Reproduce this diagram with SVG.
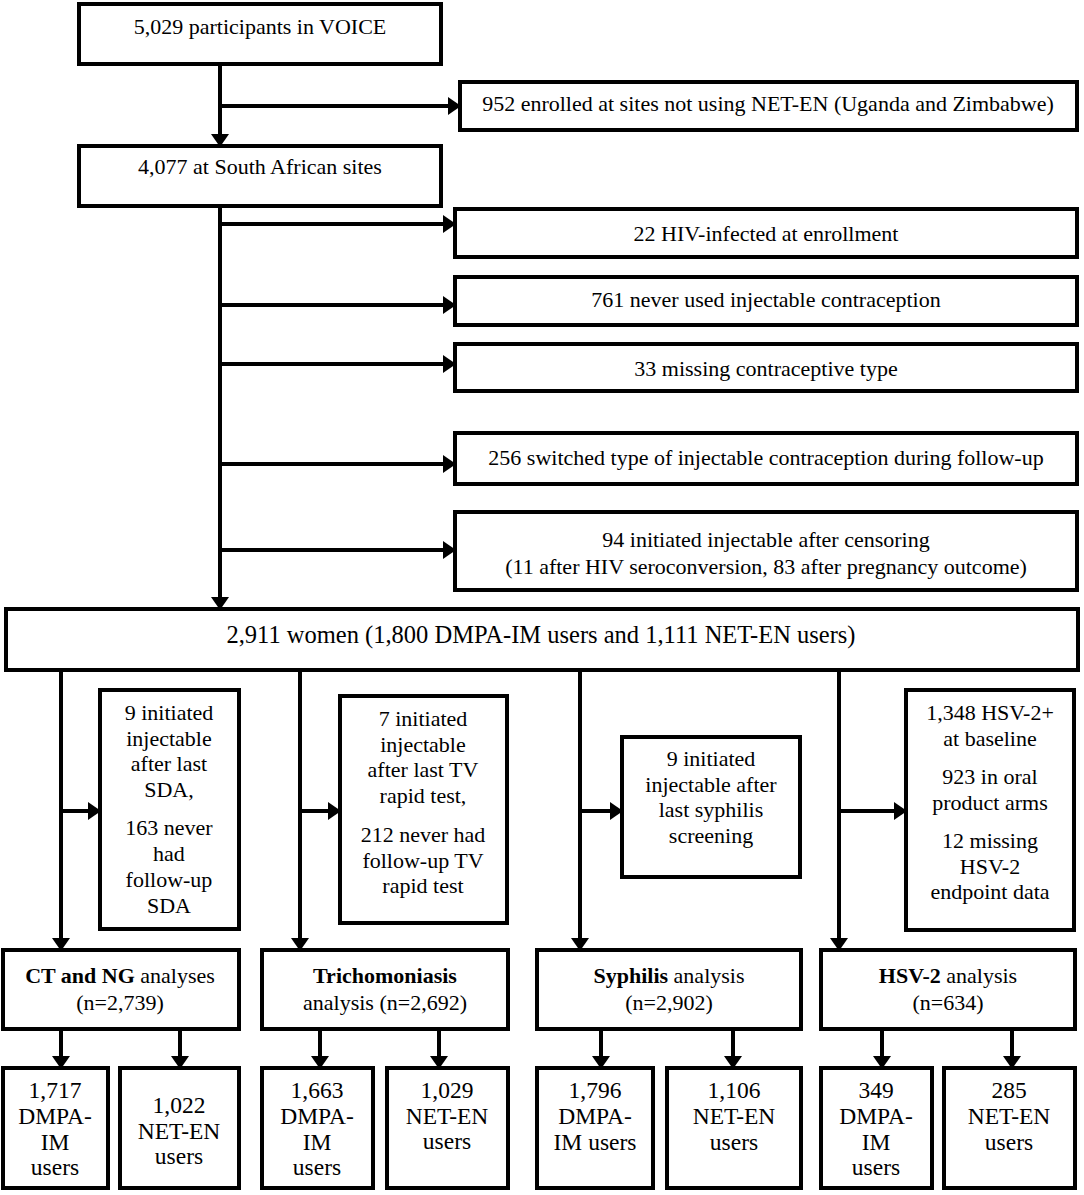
<svg xmlns="http://www.w3.org/2000/svg" width="1084" height="1195" viewBox="0 0 1084 1195">
<defs>
<marker id="ah" markerUnits="userSpaceOnUse" viewBox="0 0 13 18" refX="12" refY="9" markerWidth="13" markerHeight="18" orient="auto">
<path d="M0,0 L13,9 L0,18 z" fill="#000"/>
</marker>
<style>
.box{fill:#fff;stroke:#000;stroke-width:4}
.ar{fill:none;stroke:#000;stroke-width:4;marker-end:url(#ah)}
text{font-family:"Liberation Serif","Times New Roman",serif;font-size:22px;fill:#000;text-anchor:middle}
.b{font-weight:bold}
.big{font-size:24.5px}
.sub text{font-size:23.5px}
</style>
</defs>
<rect width="1084" height="1195" fill="#fff"/>

<g id="connectors">
<line class="ar" x1="220" y1="64" x2="220" y2="146"/>
<line class="ar" x1="220" y1="106" x2="460" y2="106"/>
<line class="ar" x1="220" y1="206" x2="220" y2="609"/>
<line class="ar" x1="220" y1="224" x2="455" y2="224"/>
<line class="ar" x1="220" y1="305" x2="455" y2="305"/>
<line class="ar" x1="220" y1="364" x2="455" y2="364"/>
<line class="ar" x1="220" y1="464" x2="455" y2="464"/>
<line class="ar" x1="220" y1="550" x2="455" y2="550"/>
<line class="ar" x1="61" y1="670" x2="61" y2="950"/>
<line class="ar" x1="300" y1="670" x2="300" y2="950"/>
<line class="ar" x1="580" y1="670" x2="580" y2="950"/>
<line class="ar" x1="839" y1="670" x2="839" y2="950"/>
<line class="ar" x1="61" y1="811" x2="100" y2="811"/>
<line class="ar" x1="300" y1="811" x2="340" y2="811"/>
<line class="ar" x1="580" y1="811" x2="622" y2="811"/>
<line class="ar" x1="839" y1="811" x2="906" y2="811"/>
<line class="ar" x1="61" y1="1029" x2="61" y2="1068"/>
<line class="ar" x1="180" y1="1029" x2="180" y2="1068"/>
<line class="ar" x1="320" y1="1029" x2="320" y2="1068"/>
<line class="ar" x1="439" y1="1029" x2="439" y2="1068"/>
<line class="ar" x1="601" y1="1029" x2="601" y2="1068"/>
<line class="ar" x1="733" y1="1029" x2="733" y2="1068"/>
<line class="ar" x1="882" y1="1029" x2="882" y2="1068"/>
<line class="ar" x1="1012" y1="1029" x2="1012" y2="1068"/>
</g>

<g id="n_voice"><rect class="box" x="79" y="4" width="362" height="60"/><text x="260" y="34">5,029 participants in VOICE</text></g>
<g id="n_952"><rect class="box" x="460" y="82" width="617" height="48"/><text x="768" y="111">952 enrolled at sites not using NET-EN (Uganda and Zimbabwe)</text></g>
<g id="n_4077"><rect class="box" x="79" y="146" width="362" height="60"/><text x="260" y="174">4,077 at South African sites</text></g>
<g id="n_22"><rect class="box" x="455" y="209" width="622" height="48"/><text x="766" y="241">22 HIV-infected at enrollment</text></g>
<g id="n_761"><rect class="box" x="455" y="277" width="622" height="48"/><text x="766" y="307">761 never used injectable contraception</text></g>
<g id="n_33"><rect class="box" x="455" y="344" width="622" height="47"/><text x="766" y="376">33 missing contraceptive type</text></g>
<g id="n_256"><rect class="box" x="455" y="433" width="622" height="51"/><text x="766" y="465">256 switched type of injectable contraception during follow-up</text></g>
<g id="n_94"><rect class="box" x="455" y="512" width="622" height="78"/><text x="766" y="547">94 initiated injectable after censoring</text><text x="766" y="574">(11 after HIV seroconversion, 83 after pregnancy outcome)</text></g>
<g id="n_2911"><rect class="box" x="6" y="609" width="1072" height="61"/><text class="big" x="541" y="643">2,911 women (1,800 DMPA-IM users and 1,111 NET-EN users)</text></g>

<g id="n_ex_ct"><rect class="box" x="100" y="690" width="139" height="239"/>
<text x="169" y="720">9 initiated</text><text x="169" y="746">injectable</text><text x="169" y="771">after last</text><text x="169" y="797">SDA,</text>
<text x="169" y="835">163 never</text><text x="169" y="861">had</text><text x="169" y="887">follow-up</text><text x="169" y="913">SDA</text></g>
<g id="n_ex_tv"><rect class="box" x="340" y="696" width="167" height="227"/>
<text x="423" y="726">7 initiated</text><text x="423" y="752">injectable</text><text x="423" y="777">after last TV</text><text x="423" y="803">rapid test,</text>
<text x="423" y="842">212 never had</text><text x="423" y="868">follow-up TV</text><text x="423" y="893">rapid test</text></g>
<g id="n_ex_syph"><rect class="box" x="622" y="737" width="178" height="140"/>
<text x="711" y="766">9 initiated</text><text x="711" y="792">injectable after</text><text x="711" y="817">last syphilis</text><text x="711" y="843">screening</text></g>
<g id="n_ex_hsv"><rect class="box" x="906" y="690" width="168" height="240"/>
<text x="990" y="720">1,348 HSV-2+</text><text x="990" y="746">at baseline</text>
<text x="990" y="784">923 in oral</text><text x="990" y="810">product arms</text>
<text x="990" y="848">12 missing</text><text x="990" y="874">HSV-2</text><text x="990" y="899">endpoint data</text></g>

<g id="n_ct"><rect class="box" x="3" y="950" width="236" height="79"/><text x="120" y="983"><tspan class="b">CT and NG</tspan> analyses</text><text x="120" y="1010">(n=2,739)</text></g>
<g id="n_tv"><rect class="box" x="262" y="950" width="246" height="79"/><text x="385" y="983" class="b">Trichomoniasis</text><text x="385" y="1010">analysis (n=2,692)</text></g>
<g id="n_syph"><rect class="box" x="537" y="950" width="264" height="79"/><text x="669" y="983"><tspan class="b">Syphilis</tspan> analysis</text><text x="669" y="1010">(n=2,902)</text></g>
<g id="n_hsv"><rect class="box" x="821" y="950" width="254" height="79"/><text x="948" y="983"><tspan class="b">HSV-2</tspan> analysis</text><text x="948" y="1010">(n=634)</text></g>

<g id="n_ct_d" class="sub"><rect class="box" x="3" y="1068" width="105" height="120"/><text x="55" y="1098">1,717</text><text x="55" y="1124">DMPA-</text><text x="55" y="1150">IM</text><text x="55" y="1175">users</text></g>
<g id="n_ct_n" class="sub"><rect class="box" x="120" y="1068" width="119" height="120"/><text x="179" y="1113">1,022</text><text x="179" y="1139">NET-EN</text><text x="179" y="1164">users</text></g>
<g id="n_tv_d" class="sub"><rect class="box" x="262" y="1068" width="111" height="120"/><text x="317" y="1098">1,663</text><text x="317" y="1124">DMPA-</text><text x="317" y="1150">IM</text><text x="317" y="1175">users</text></g>
<g id="n_tv_n" class="sub"><rect class="box" x="387" y="1068" width="121" height="120"/><text x="447" y="1098">1,029</text><text x="447" y="1124">NET-EN</text><text x="447" y="1149">users</text></g>
<g id="n_syph_d" class="sub"><rect class="box" x="537" y="1068" width="116" height="120"/><text x="595" y="1098">1,796</text><text x="595" y="1124">DMPA-</text><text x="595" y="1150">IM users</text></g>
<g id="n_syph_n" class="sub"><rect class="box" x="667" y="1068" width="134" height="120"/><text x="734" y="1098">1,106</text><text x="734" y="1124">NET-EN</text><text x="734" y="1150">users</text></g>
<g id="n_hsv_d" class="sub"><rect class="box" x="821" y="1068" width="111" height="120"/><text x="876" y="1098">349</text><text x="876" y="1124">DMPA-</text><text x="876" y="1150">IM</text><text x="876" y="1175">users</text></g>
<g id="n_hsv_n" class="sub"><rect class="box" x="944" y="1068" width="131" height="120"/><text x="1009" y="1098">285</text><text x="1009" y="1124">NET-EN</text><text x="1009" y="1150">users</text></g>
</svg>
